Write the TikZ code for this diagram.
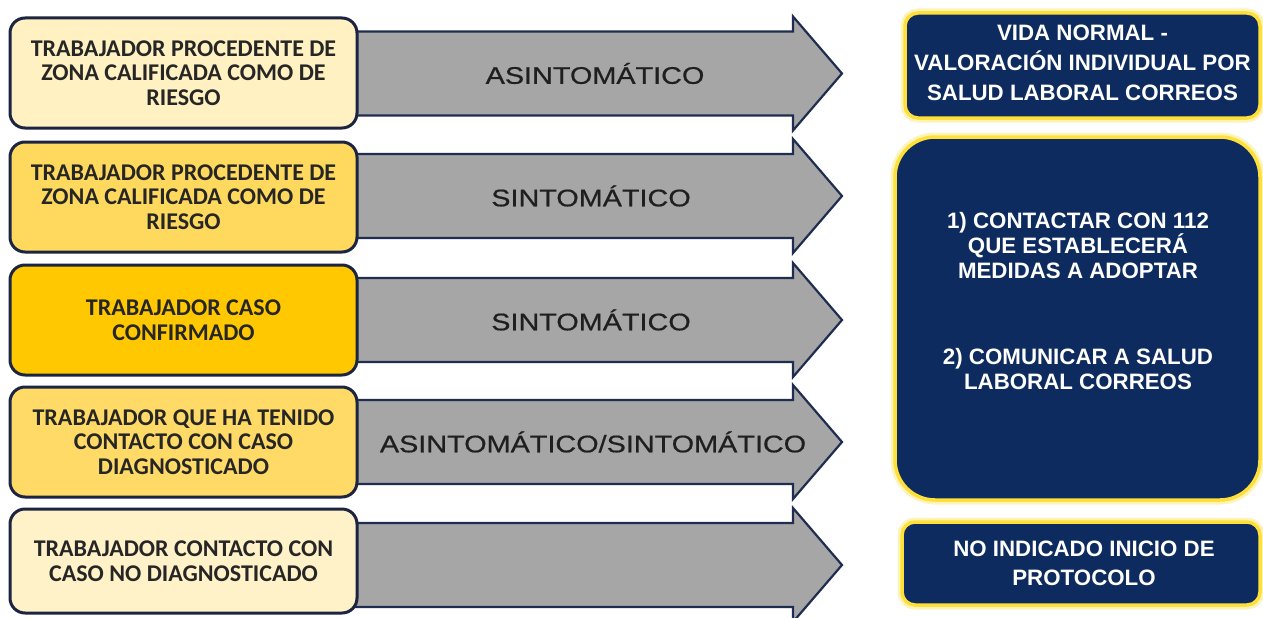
\documentclass[tikz,border=0pt]{standalone}
\usepackage{fontspec}
\setmainfont{Liberation Sans}
\newfontfamily\leftfont{Carlito}
\newfontfamily\arrowfont[FakeStretch=1.2,FakeBold=0.6]{Liberation Sans}
\newfontfamily\rightfont{Liberation Sans}
\definecolor{navyline}{HTML}{1B2440}
\definecolor{arrowline}{HTML}{1F2E50}
\definecolor{arrowgray}{HTML}{A6A6A6}
\definecolor{navyfill}{HTML}{0D2B5E}
\definecolor{glow}{HTML}{FFE03A}
\definecolor{glowlight}{HTML}{FFF4B8}
\definecolor{leftA}{HTML}{FFF1C1}
\definecolor{leftB}{HTML}{FFD95E}
\definecolor{leftC}{HTML}{FFC800}
\definecolor{leftD}{HTML}{FFDA66}
\definecolor{leftE}{HTML}{FFF2C8}
\definecolor{lefttext}{HTML}{262626}
\begin{document}
\begin{tikzpicture}[x=1pt,y=-1pt,
  leftbox/.style={draw=navyline, line width=3pt, rounded corners=15pt,
    minimum width=347pt, minimum height=110pt, align=center, inner sep=0pt,
    font=\leftfont\bfseries\fontsize{24}{24.5}\selectfont, text=lefttext},
  arrowshape/.style={fill=arrowgray, draw=arrowline, line width=2.2pt, line join=miter},
  arrowlabel/.style={font=\arrowfont\fontsize{24}{26}\selectfont, text=black!88, inner sep=0pt},
  outbox/.style={fill=navyfill, draw=glow, line width=3.5pt, inner sep=0pt,
    preaction={draw=glowlight, line width=9pt}},
  outtext/.style={align=center, text=white, inner sep=0pt,
    font=\rightfont\bfseries\fontsize{22.3}{30}\selectfont}
]
\useasboundingbox (0,0) rectangle (1263,618);
\fill[white] (0,0) rectangle (1263,618);

% block arrows
\foreach \cy in {73.5,196,320,442,565}{
  \draw[arrowshape] (340,\cy-42) -- (793,\cy-42) -- (793,\cy-57) -- (842,\cy)
    -- (793,\cy+57) -- (793,\cy+42) -- (340,\cy+42) -- cycle;
}

% left boxes
\node[leftbox, fill=leftA] (l1) at (183.5,73) {TRABAJADOR PROCEDENTE DE\\ZONA CALIFICADA COMO DE\\RIESGO};
\node[leftbox, fill=leftB] (l2) at (183.5,197) {TRABAJADOR PROCEDENTE DE\\ZONA CALIFICADA COMO DE\\RIESGO};
\node[leftbox, fill=leftC] (l3) at (183.5,320) {TRABAJADOR CASO\\CONFIRMADO};
\node[leftbox, fill=leftD] (l4) at (183.5,442) {TRABAJADOR QUE HA TENIDO\\CONTACTO CON CASO\\DIAGNOSTICADO};
\node[leftbox, fill=leftE, minimum height=104pt] (l5) at (183.5,561) {TRABAJADOR CONTACTO CON\\CASO NO DIAGNOSTICADO};

% arrow labels
\node[arrowlabel] (a1) at (595,73.5) {ASINTOMÁTICO};
\node[arrowlabel] (a2) at (591,196) {SINTOMÁTICO};
\node[arrowlabel] (a3) at (591,320) {SINTOMÁTICO};
\node[arrowlabel] (a4) at (593,442) {ASINTOMÁTICO/SINTOMÁTICO};

% right boxes
\node[outbox, rounded corners=13pt, minimum width=355pt, minimum height=105pt] (oA) at (1082.5,65.5) {};
\node[outtext] (oAt) at (1082.5,63) {VIDA NORMAL -\\VALORACIÓN INDIVIDUAL POR\\SALUD LABORAL CORREOS};

\node[outbox, rounded corners=40pt, minimum width=365pt, minimum height=363pt] (oB) at (1077.5,318.5) {};
\node[outtext, font=\rightfont\bfseries\fontsize{22.3}{25}\selectfont] (oBt) at (1078,301)
  {1) CONTACTAR CON 112\\QUE ESTABLECERÁ\\MEDIDAS A ADOPTAR\\[61pt]2) COMUNICAR A SALUD\\LABORAL CORREOS};

\node[outbox, rounded corners=13pt, minimum width=358pt, minimum height=83pt] (oC) at (1081,563.5) {};
\node[outtext, font=\rightfont\bfseries\fontsize{22.3}{29}\selectfont] (oCt) at (1084,563) {NO INDICADO INICIO DE\\PROTOCOLO};
\end{tikzpicture}
\end{document}
